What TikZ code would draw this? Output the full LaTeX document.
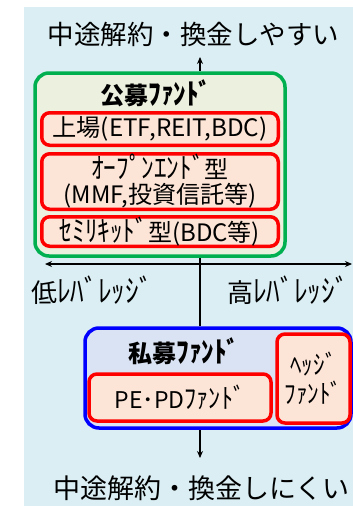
\documentclass[tikz,border=0pt]{standalone}
\usepackage{fontspec}
\usepackage{graphicx}
\setmainfont{Noto Sans CJK JP}
\usetikzlibrary{arrows.meta}
\newcommand\hkana[1]{\scalebox{1.05}[1.2]{#1}}
\definecolor{bgblue}{HTML}{DAEEF3}
\definecolor{grn}{HTML}{00B050}
\definecolor{grnfill}{HTML}{EBF1DE}
\definecolor{redfill}{HTML}{FCE4D6}
\definecolor{bluefill}{HTML}{DAE3F3}
\definecolor{blu}{HTML}{0000FF}
\tikzset{
  outerg/.style={draw=grn,fill=grnfill,line width=3.5pt,rounded corners=14pt,minimum width=250pt,minimum height=183pt},
  outerb/.style={draw=blu,fill=bluefill,line width=3.5pt,rounded corners=14pt,minimum width=266pt,minimum height=100pt},
  redbox/.style={draw=red,fill=redfill,line width=3.5pt,rounded corners=8pt,align=center,inner sep=0pt,font=\fontsize{24}{25}\selectfont},
  ttl/.style={font=\fontsize{26.5}{28}\selectfont},
  hdr/.style={font=\bfseries\fontsize{24}{26}\selectfont},
  lbl/.style={font=\fontsize{26}{28}\selectfont},
  axis/.style={line width=1.5pt,-{Stealth[length=7pt,width=6pt]}},
}
\begin{document}
\begin{tikzpicture}[x=1pt,y=-1pt]
\useasboundingbox (0,0) rectangle (353,506);
\fill[bgblue] (24,7) rectangle (353,506);
% top title
\node[ttl] (top) at (193.5,34) {中途解約・換金しやすい};
% public funds
\node[outerg] (green) at (160,164.5) {};
\node[hdr] (pubh) at (156,93) {公募\hkana{ﾌｧﾝﾄﾞ}};
\node[redbox,minimum width=236.5pt,minimum height=32.5pt] (r1) at (160,129) {\scalebox{1.01}[1]{上場(ETF,REIT,BDC)}};
\node[redbox,minimum width=236.5pt,minimum height=55.5pt] (r2) at (160,181.5) {\hkana{ｵｰﾌﾟﾝｴﾝﾄﾞ}型\\(MMF,投資信託等)};
\node[redbox,minimum width=236.5pt,minimum height=29.5pt] (r3) at (160,231.5) {\hkana{ｾﾐﾘｷｯﾄﾞ}型(BDC等)};
% private funds
\node[outerb] (blue) at (218,378) {};
\node[hdr] (privh) at (184,351) {私募\hkana{ﾌｧﾝﾄﾞ}};
\node[redbox,minimum width=182pt,minimum height=47pt,font=\fontsize{23}{25}\selectfont] (pe) at (180,397.5) {PE･PD\hkana{ﾌｧﾝﾄﾞ}};
\node[redbox,minimum width=73pt,minimum height=89pt,font=\fontsize{22}{29}\selectfont] (hedge) at (313.5,378.5) {\hkana{ﾍｯｼﾞ}\\\hkana{ﾌｧﾝﾄﾞ}};
% axes
\coordinate (gtop) at (200,71);
\coordinate (uptip) at (200,57);
\coordinate (gbot) at (200,258);
\coordinate (bbot) at (200,430);
\coordinate (dntip) at (200,458);
\coordinate (axL) at (45,264);
\coordinate (axR) at (352,264);
\coordinate (axM) at (200,264);
\draw[axis] (gtop) -- (uptip);
\draw[axis] (axM) -- (axL);
\draw[axis] (axM) -- (axR);
\draw[line width=1.5pt] (gbot) -- (gbot |- blue.north);
\draw[axis] (bbot) -- (dntip);
\node[lbl] (low) at (92,290) {低\hkana{ﾚﾊﾞﾚｯｼﾞ}};
\node[lbl] (high) at (288,290) {高\hkana{ﾚﾊﾞﾚｯｼﾞ}};
% bottom title
\node[ttl,font=\fontsize{27}{29}\selectfont] (bot) at (201.5,488) {中途解約・換金しにくい};
\end{tikzpicture}
\end{document}
